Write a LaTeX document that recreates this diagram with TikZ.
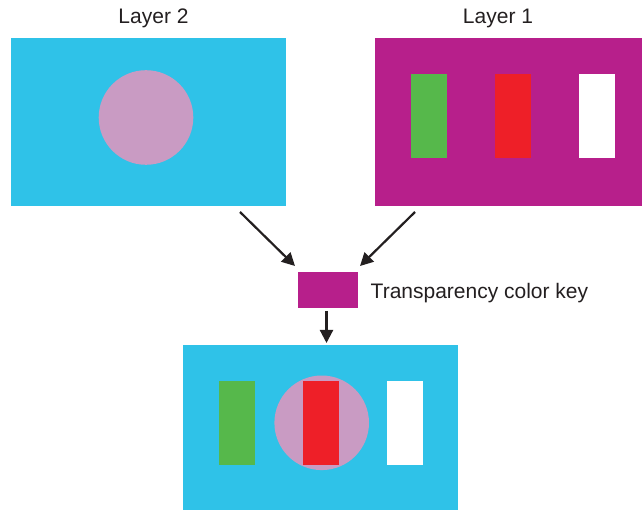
\documentclass[tikz,border=0pt]{standalone}
\usepackage{fontspec}
\setmainfont{Liberation Sans}
\usetikzlibrary{arrows.meta}
\definecolor{cyanbg}{HTML}{2FC2E8}
\definecolor{magbg}{HTML}{B71F8B}
\definecolor{pinkc}{HTML}{C99BC3}
\definecolor{greenr}{HTML}{56B84B}
\definecolor{redr}{HTML}{EE1F28}
\definecolor{txt}{HTML}{231F20}
\tikzset{
  box/.style={rectangle, draw=none, inner sep=0pt, outer sep=0pt},
  disc/.style={circle, draw=none, fill=pinkc, inner sep=0pt, outer sep=0pt, minimum size=94.6pt},
  bar/.style={rectangle, draw=none, inner sep=0pt, outer sep=0pt, minimum width=36pt, minimum height=84pt},
  lbl/.style={inner sep=0pt, outer sep=0pt, text=txt, font=\fontsize{21}{25}\selectfont},
  conn/.style={draw=txt, line width=2.2pt, -{Triangle[length=13pt,width=13pt]}}
}
\begin{document}
\begin{tikzpicture}[x=1pt,y=-1pt]
\useasboundingbox (0,0) rectangle (642,510);
% Layer 2
\node[box, fill=cyanbg, minimum width=275pt, minimum height=168pt] (l2) at (148.5,122) {};
\node[disc] (l2c) at (146,117.5) {};
\node[lbl, anchor=base] (t2) at (153.5,24) {Layer 2};
% Layer 1
\node[box, fill=magbg, minimum width=267pt, minimum height=168pt] (l1) at (508.5,122) {};
\node[bar, fill=greenr] (g1) at (429,116) {};
\node[bar, fill=redr] (r1) at (513,116) {};
\node[bar, fill=white] (w1) at (597,116) {};
\node[lbl, anchor=base] (t1) at (498,24) {Layer 1};
% key
\node[box, fill=magbg, minimum width=60pt, minimum height=36pt] (k) at (328,290) {};
\node[lbl, anchor=base west] (tk) at (370.7,299) {Transparency color key};
% result
\node[box, fill=cyanbg, minimum width=275.5pt, minimum height=166pt] (res) at (320.5,428) {};
\node[bar, fill=greenr] (g2) at (237,423) {};
\node[disc] (c2) at (321.7,422.8) {};
\node[bar, fill=redr] (r2) at (321,423) {};
\node[bar, fill=white] (w2) at (405,423) {};
% connectors
\coordinate (a1) at (240,212);
\coordinate (a2) at (415,212);
\coordinate (a3) at ([shift={(-1.5,3)}]k.south);
\draw[conn] (a1) -- ([shift={(-3,-6)}]k.north west);
\draw[conn] (a2) -- ([shift={(2,-6)}]k.north east);
\draw[conn] (a3) -- ([yshift=2pt]a3 |- res.north);
\end{tikzpicture}
\end{document}
